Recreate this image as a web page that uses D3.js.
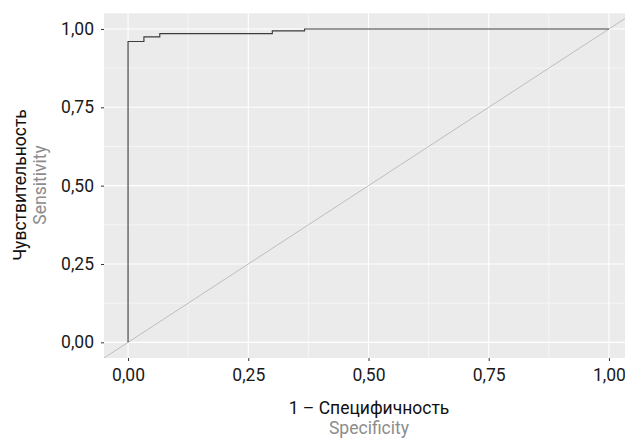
<!DOCTYPE html>
<html><head><meta charset="utf-8">
<script src="https://cdn.jsdelivr.net/npm/d3@7"></script>
<style>body{margin:0;background:#fff}svg{display:block}text{font-family:Roboto,sans-serif}</style>
</head><body><svg id="c" width="625" height="438"></svg>
<script>
// ROC curve data (false positive rate = 1 - specificity, true positive rate = sensitivity)
const fpr = [0, 0, 0.033, 0.033, 0.066, 0.066, 0.30, 0.30, 0.367, 0.367, 1.0];
const tpr = [0, 0.96, 0.96, 0.975, 0.975, 0.985, 0.985, 0.994, 0.994, 1.0, 1.0];
const xTicks = [0, 0.25, 0.5, 0.75, 1];
const yTicks = [0, 0.25, 0.5, 0.75, 1];
const xMinor = [0.125, 0.375, 0.625, 0.875];
const yMinor = [0.125, 0.375, 0.625, 0.875];
const xTitle = "1 – Специфичность", xSub = "Specificity";
const yTitle = "Чувствительность", ySub = "Sensitivity";

const svg = d3.select("#c");
const x = d3.scaleLinear().domain([-0.05, 1.05]).range([104, 633]);
const y = d3.scaleLinear().domain([-0.05, 1.05]).range([358, 13.3]);
const fmt = d => d3.format(".2f")(d).replace(".", ",");

const [px0, px1] = x.range(), [py0, py1] = y.range();
svg.append("rect").attr("x", px0).attr("y", py1).attr("width", px1 - px0).attr("height", py0 - py1).attr("fill", "#EBEBEB");

const g = svg.append("g");
g.selectAll(".xm").data(xMinor).join("line").attr("x1", d => x(d)).attr("x2", d => x(d)).attr("y1", py1).attr("y2", py0).attr("stroke", "#fff").attr("stroke-width", 0.55);
g.selectAll(".ym").data(yMinor).join("line").attr("y1", d => y(d)).attr("y2", d => y(d)).attr("x1", px0).attr("x2", px1).attr("stroke", "#fff").attr("stroke-width", 0.55);
g.selectAll(".xM").data(xTicks).join("line").attr("x1", d => x(d)).attr("x2", d => x(d)).attr("y1", py1).attr("y2", py0).attr("stroke", "#fff").attr("stroke-width", 1.1);
g.selectAll(".yM").data(yTicks).join("line").attr("y1", d => y(d)).attr("y2", d => y(d)).attr("x1", px0).attr("x2", px1).attr("stroke", "#fff").attr("stroke-width", 1.1);

// diagonal reference line clipped to panel
svg.append("clipPath").attr("id", "clp").append("rect").attr("x", px0).attr("y", py1).attr("width", px1 - px0).attr("height", py0 - py1);
svg.append("line").attr("clip-path", "url(#clp)")
  .attr("x1", x(-0.05)).attr("y1", y(-0.05)).attr("x2", x(1.05)).attr("y2", y(1.05))
  .attr("stroke", "#BDBDBD").attr("stroke-width", 1);

const pts = fpr.map((f, i) => [f, tpr[i]]);
svg.append("path").attr("d", d3.line().x(d => x(d[0])).y(d => y(d[1]))(pts))
  .attr("fill", "none").attr("stroke", "#3d3d3d").attr("stroke-width", 1.15);

// axes
const xa = svg.append("g").attr("transform", `translate(0,${py0})`)
  .call(d3.axisBottom(x).tickValues(xTicks).tickFormat(fmt).tickSize(3).tickPadding(8));
const ya = svg.append("g").attr("transform", `translate(${px0},0)`)
  .call(d3.axisLeft(y).tickValues(yTicks).tickFormat(fmt).tickSize(3).tickPadding(7));
[xa, ya].forEach(a => {
  a.select(".domain").remove();
  a.selectAll(".tick line").attr("stroke", "#333").attr("stroke-width", 1);
  a.selectAll(".tick text").attr("fill", "#1a1a1a").style("font-size", "17.5px").style("font-family", "Roboto, sans-serif");
});

const fs = "17.5px";
svg.append("text").attr("x", 369).attr("y", 414).attr("text-anchor", "middle").attr("fill", "#111").style("font-size", fs).text(xTitle);
svg.append("text").attr("x", 369).attr("y", 434).attr("text-anchor", "middle").attr("fill", "#8c8c8c").style("font-size", fs).text(xSub);
svg.append("text").attr("transform", "translate(26,185) rotate(-90)").attr("text-anchor", "middle").attr("fill", "#111").style("font-size", fs).text(yTitle);
svg.append("text").attr("transform", "translate(46,185) rotate(-90)").attr("text-anchor", "middle").attr("fill", "#8c8c8c").style("font-size", fs).text(ySub);
</script></body></html>
